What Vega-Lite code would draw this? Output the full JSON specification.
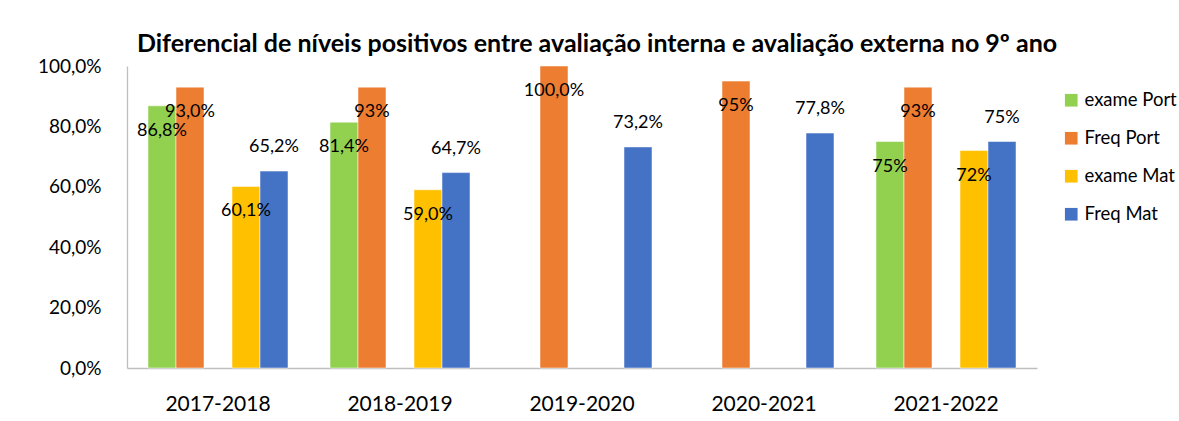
{
  "$schema": "https://vega.github.io/schema/vega-lite/v6.json",
  "width": 910,
  "height": 302,
  "autosize": {"type": "none"},
  "padding": {"left": 127, "top": 66, "right": 142, "bottom": 53},
  "background": "white",
  "config": {
    "view": {"stroke": null},
    "font": "Lato",
    "axis": {"labelFont": "Lato", "labelColor": "#000000", "grid": false, "ticks": false, "domainColor": "#bfbfbf", "domainWidth": 1.3, "title": null},
    "legend": {"labelFont": "Lato", "labelColor": "#000000"}
  },
  "title": {
    "text": "Diferencial de níveis positivos entre avaliação interna e avaliação externa no 9º ano",
    "font": "Lato",
    "fontSize": 25,
    "fontWeight": "bold",
    "color": "#000000",
    "anchor": "middle",
    "frame": "group",
    "dx": 15,
    "offset": 0
  },
  "data": {
    "values": [
      {"ano": "2017-2018", "serie": "exame Port", "valor": 0.868, "rotulo": "86,8%"},
      {"ano": "2017-2018", "serie": "Freq Port", "valor": 0.930, "rotulo": "93,0%"},
      {"ano": "2017-2018", "serie": "exame Mat", "valor": 0.601, "rotulo": "60,1%"},
      {"ano": "2017-2018", "serie": "Freq Mat", "valor": 0.652, "rotulo": "65,2%"},
      {"ano": "2018-2019", "serie": "exame Port", "valor": 0.814, "rotulo": "81,4%"},
      {"ano": "2018-2019", "serie": "Freq Port", "valor": 0.93, "rotulo": "93%"},
      {"ano": "2018-2019", "serie": "exame Mat", "valor": 0.590, "rotulo": "59,0%"},
      {"ano": "2018-2019", "serie": "Freq Mat", "valor": 0.647, "rotulo": "64,7%"},
      {"ano": "2019-2020", "serie": "Freq Port", "valor": 1.0, "rotulo": "100,0%"},
      {"ano": "2019-2020", "serie": "Freq Mat", "valor": 0.732, "rotulo": "73,2%"},
      {"ano": "2020-2021", "serie": "Freq Port", "valor": 0.95, "rotulo": "95%"},
      {"ano": "2020-2021", "serie": "Freq Mat", "valor": 0.778, "rotulo": "77,8%"},
      {"ano": "2021-2022", "serie": "exame Port", "valor": 0.75, "rotulo": "75%"},
      {"ano": "2021-2022", "serie": "Freq Port", "valor": 0.93, "rotulo": "93%"},
      {"ano": "2021-2022", "serie": "exame Mat", "valor": 0.72, "rotulo": "72%"},
      {"ano": "2021-2022", "serie": "Freq Mat", "valor": 0.75, "rotulo": "75%"}
    ]
  },
  "encoding": {
    "x": {
      "field": "ano", "type": "nominal",
      "scale": {"paddingInner": 0, "paddingOuter": 0},
      "axis": {"labelAngle": 0, "labelFontSize": 21, "labelPadding": 25}
    },
    "xOffset": {
      "field": "serie", "type": "nominal",
      "scale": {"domain": ["exame Port", "Freq Port", "_", "exame Mat", "Freq Mat"], "paddingInner": 0, "paddingOuter": 0.75}
    },
    "y": {
      "field": "valor", "type": "quantitative",
      "scale": {"domain": [0, 1], "nice": false},
      "axis": {"values": [0, 0.2, 0.4, 0.6, 0.8, 1.0], "labelExpr": "replace(format(datum.value, '.1%'), '.', ',')", "labelFontSize": 19, "labelPadding": 26}
    }
  },
  "layer": [
    {
      "mark": {"type": "bar", "stroke": "#ffffff", "strokeOpacity": 0.5, "strokeWidth": 1},
      "encoding": {
        "color": {
          "field": "serie", "type": "nominal",
          "scale": {"domain": ["exame Port", "Freq Port", "exame Mat", "Freq Mat"], "range": ["#92D050", "#ED7D31", "#FFC000", "#4472C4"]},
          "legend": {"title": null, "orient": "none", "legendX": 935, "legendY": 25, "symbolType": "square", "symbolSize": 160, "symbolStrokeWidth": 0, "labelFontSize": 18.5, "rowPadding": 19, "labelOffset": 4}
        }
      }
    },
    {
      "transform": [{"filter": "datum.serie != 'Freq Mat'"}],
      "mark": {"type": "text", "baseline": "top", "dy": 16, "fontSize": 18, "font": "Lato", "color": "#000000"},
      "encoding": {"text": {"field": "rotulo"}}
    },
    {
      "transform": [{"filter": "datum.serie == 'Freq Mat'"}],
      "mark": {"type": "text", "baseline": "bottom", "dy": -15, "fontSize": 18, "font": "Lato", "color": "#000000"},
      "encoding": {"text": {"field": "rotulo"}}
    }
  ]
}
